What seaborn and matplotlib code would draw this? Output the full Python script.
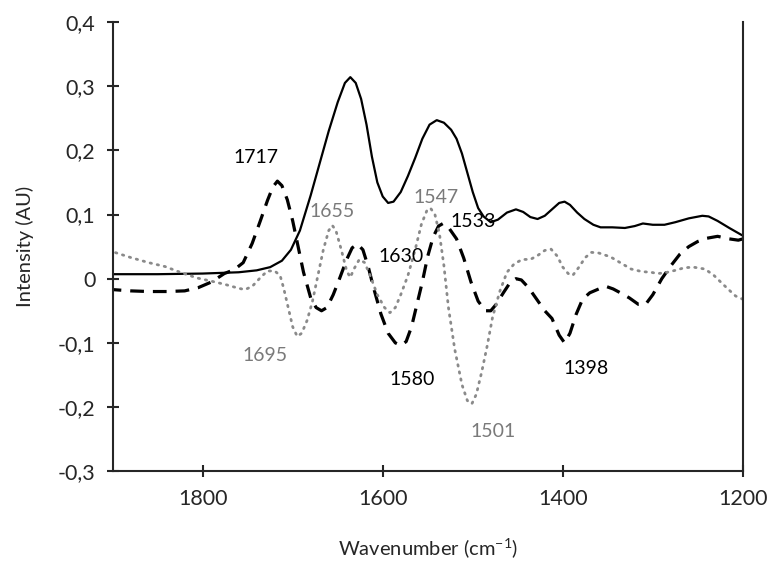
import numpy as np
import pandas as pd
import matplotlib
matplotlib.use("Agg")
import matplotlib.pyplot as plt
from matplotlib.ticker import FuncFormatter
import seaborn as sns

# solid spectrum (wavenumber, intensity)
solid_x = [1900, 1850, 1800, 1760, 1740, 1725, 1712, 1702, 1692, 1680, 1670, 1660, 1650,
           1642, 1636, 1630, 1624, 1618, 1612, 1606, 1600, 1594, 1588, 1580, 1572, 1564,
           1556, 1548, 1540, 1532, 1524, 1518, 1512, 1506, 1500, 1494, 1488, 1480, 1472,
           1462, 1452, 1444, 1436, 1428, 1420, 1412, 1404, 1398, 1392, 1384, 1376, 1366,
           1358, 1345, 1331, 1320, 1311, 1300, 1287, 1275, 1260, 1245, 1238, 1228, 1215, 1200]
solid_y = [0.007, 0.007, 0.008, 0.010, 0.013, 0.018, 0.028, 0.045, 0.075, 0.130, 0.180, 0.230, 0.275,
           0.305, 0.314, 0.305, 0.280, 0.240, 0.190, 0.150, 0.128, 0.118, 0.120, 0.135, 0.160, 0.188,
           0.218, 0.240, 0.247, 0.243, 0.232, 0.218, 0.195, 0.165, 0.135, 0.110, 0.097, 0.088, 0.092,
           0.103, 0.108, 0.104, 0.096, 0.093, 0.098, 0.108, 0.118, 0.120, 0.115, 0.103, 0.093, 0.084,
           0.080, 0.080, 0.079, 0.082, 0.086, 0.084, 0.084, 0.088, 0.094, 0.098, 0.097, 0.090, 0.079, 0.067]

# dashed spectrum
dash_x = [1900, 1880, 1860, 1840, 1820, 1805, 1790, 1776, 1765, 1755, 1745, 1736, 1728, 1722,
          1717, 1712, 1706, 1700, 1694, 1688, 1680, 1674, 1668, 1662, 1655, 1648, 1640, 1634,
          1628, 1622, 1616, 1610, 1602, 1594, 1586, 1580, 1574, 1568, 1562, 1556, 1550, 1544,
          1538, 1533, 1526, 1518, 1510, 1502, 1494, 1486, 1480, 1474, 1466, 1458, 1452, 1446,
          1438, 1430, 1420, 1412, 1404, 1398, 1392, 1385, 1378, 1370, 1360, 1352, 1344, 1336,
          1326, 1316, 1308, 1300, 1290, 1280, 1270, 1260, 1250, 1240, 1228, 1215, 1205, 1200]
dash_y = [-0.017, -0.019, -0.020, -0.020, -0.019, -0.014, -0.005, 0.008, 0.014, 0.025, 0.055, 0.090, 0.122, 0.143,
          0.152, 0.145, 0.123, 0.090, 0.050, 0.010, -0.030, -0.045, -0.050, -0.045, -0.025, 0.000, 0.030, 0.048,
          0.054, 0.045, 0.018, -0.015, -0.055, -0.085, -0.100, -0.104, -0.098, -0.075, -0.040, -0.005, 0.035, 0.065,
          0.082, 0.086, 0.078, 0.062, 0.032, -0.005, -0.035, -0.050, -0.050, -0.040, -0.022, -0.005, 0.000, -0.002,
          -0.014, -0.030, -0.050, -0.062, -0.088, -0.100, -0.085, -0.055, -0.032, -0.022, -0.016, -0.012, -0.016, -0.022,
          -0.030, -0.040, -0.040, -0.025, 0.000, 0.020, 0.038, 0.050, 0.058, 0.063, 0.066, 0.062, 0.060, 0.062]

# dotted spectrum
dot_x = [1900, 1880, 1860, 1842, 1825, 1806, 1790, 1775, 1760, 1753, 1745, 1735, 1728, 1720,
         1714, 1710, 1705, 1700, 1695, 1690, 1684, 1678, 1672, 1666, 1660, 1656, 1652, 1646,
         1640, 1636, 1632, 1626, 1620, 1614, 1606, 1598, 1592, 1586, 1580, 1572, 1564, 1557,
         1551, 1547, 1542, 1537, 1532, 1527, 1520, 1512, 1506, 1501, 1496, 1490, 1484, 1478,
         1470, 1462, 1454, 1445, 1436, 1428, 1420, 1413, 1406, 1400, 1394, 1389, 1382, 1375,
         1368, 1360, 1347, 1335, 1324, 1312, 1302, 1295, 1287, 1275, 1265, 1255, 1242, 1232,
         1224, 1215, 1208, 1200]
dot_y = [0.042, 0.033, 0.025, 0.019, 0.010, 0.001, -0.004, -0.009, -0.015, -0.017, -0.012, 0.003, 0.012, 0.012,
         0.005, -0.015, -0.045, -0.075, -0.090, -0.085, -0.065, -0.035, 0.005, 0.045, 0.075, 0.083, 0.075, 0.045,
         0.012, 0.002, 0.015, 0.030, 0.025, 0.005, -0.025, -0.045, -0.053, -0.045, -0.025, 0.005, 0.045, 0.085,
         0.106, 0.110, 0.100, 0.070, 0.020, -0.045, -0.110, -0.165, -0.190, -0.195, -0.180, -0.145, -0.105, -0.060,
         -0.020, 0.010, 0.023, 0.030, 0.030, 0.036, 0.044, 0.046, 0.035, 0.018, 0.008, 0.005, 0.018, 0.033,
         0.041, 0.040, 0.034, 0.024, 0.015, 0.011, 0.010, 0.008, 0.009, 0.013, 0.017, 0.018, 0.015, 0.005,
         -0.006, -0.018, -0.027, -0.032]

# peak labels: text, x, y, colour
peak_labels = ["1717", "1655", "1630", "1547", "1533", "1695", "1580", "1501", "1398"]
peak_x = [1741, 1656, 1580, 1541, 1500, 1731, 1567, 1477, 1374]
peak_y = [0.189, 0.104, 0.035, 0.126, 0.089, -0.120, -0.157, -0.238, -0.140]
peak_gray = [False, True, False, True, False, True, False, True, False]

x_ticks = [1800, 1600, 1400, 1200]
y_ticks = [-0.3, -0.2, -0.1, 0, 0.1, 0.2, 0.3, 0.4]

def main():
    sns.set_style("ticks")
    plt.rcParams['font.family'] = ['Lato', 'DejaVu Sans']
    plt.rcParams['mathtext.default'] = 'regular'

    gray = "#8a8a8a"
    fig, ax = plt.subplots(figsize=(7.77, 5.63), dpi=100)
    fig.subplots_adjust(left=0.145, right=0.956, top=0.961, bottom=0.163)

    df_solid = pd.DataFrame({"x": solid_x, "y": solid_y})
    df_dash = pd.DataFrame({"x": dash_x, "y": dash_y})
    df_dot = pd.DataFrame({"x": dot_x, "y": dot_y})

    sns.lineplot(data=df_solid, x="x", y="y", ax=ax, color="black", linewidth=1.6)
    sns.lineplot(data=df_dash, x="x", y="y", ax=ax, color="black", linewidth=2.3,
                 linestyle=(0, (4.3, 2.8)))
    sns.lineplot(data=df_dot, x="x", y="y", ax=ax, color=gray, linewidth=2.0,
                 linestyle=(0, (0.5, 2.1)), dash_capstyle="round")

    # peak annotations
    for lab, px, py, g in zip(peak_labels, peak_x, peak_y, peak_gray):
        ax.text(px, py, lab, ha="center", va="center", fontsize=14,
                color="#7a7a7a" if g else "black")

    ax.set_xlim(1900, 1200)
    ax.set_ylim(-0.3, 0.4)
    ax.set_xticks(x_ticks)
    ax.set_yticks(y_ticks)
    ax.yaxis.set_major_formatter(FuncFormatter(lambda v, p: "0" if abs(v) < 1e-9 else f"{v:.1f}".replace(".", ",")))
    ax.tick_params(axis="both", direction="inout", length=9, width=1.5, labelsize=15.5, pad=8)

    ax.spines["top"].set_visible(False)
    for s in ["left", "right", "bottom"]:
        ax.spines[s].set_linewidth(1.5)

    ax.set_xlabel("Wavenumber (cm$^{-1}$)", fontsize=14.5, labelpad=20)
    ax.set_ylabel("Intensity (AU)", fontsize=14.5, labelpad=17)

    fig.savefig("out.png", dpi=100)

if __name__ == "__main__":
    main()
